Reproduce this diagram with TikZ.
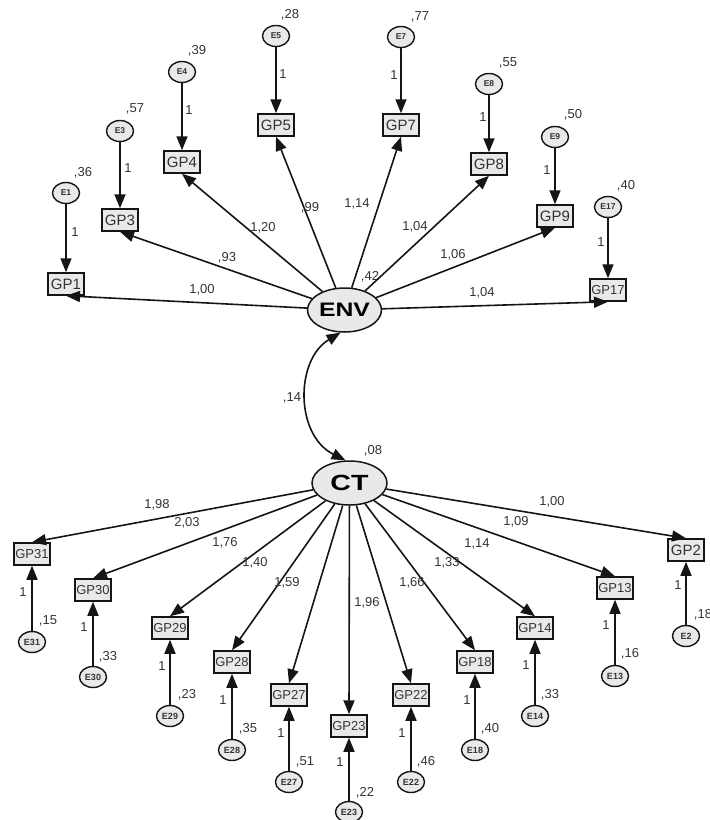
\documentclass[tikz,border=0pt]{standalone}
\usepackage{fontspec}
\setmainfont{Liberation Sans}
\usepackage{graphicx}
\usetikzlibrary{arrows.meta,shapes.geometric}
\definecolor{boxfill}{HTML}{E8EAEA}
\definecolor{linec}{HTML}{151515}
\definecolor{labc}{HTML}{333333}
\begin{document}
\begin{tikzpicture}[x=1pt,y=-1pt,
 obs/.style={draw=linec, line width=1.5pt, fill=boxfill, minimum width=36pt, minimum height=22pt, inner sep=0pt, text=labc, font=\fontsize{15}{15}\selectfont},
 obsb/.style={obs, font=\fontsize{13}{13}\selectfont},
 err/.style={ellipse, draw=linec, line width=1.4pt, fill=boxfill, minimum width=27pt, minimum height=21pt, inner sep=0pt, font=\fontsize{8.5}{9}\selectfont\bfseries, text=labc},
 errb/.style={err, font=\fontsize{9}{9}\selectfont\bfseries},
 lat/.style={ellipse, draw=linec, line width=1.5pt, fill=boxfill, minimum width=74pt, minimum height=44pt, inner sep=0pt, text=black},
 lab/.style={text=labc, font=\fontsize{13}{13}\selectfont, inner sep=0pt},
 arr/.style={line width=1.6pt, draw=linec, -{Triangle[length=14pt,width=11pt]}},
 cov/.style={line width=1.6pt, draw=linec, {Triangle[length=14pt,width=11pt]}-{Triangle[length=14pt,width=11pt]}},
]
\useasboundingbox (0,0) rectangle (710,820);

% latent variables
\node[lat] (ENV) at (344.5,310) {\scalebox{1.27}[1]{\fontsize{19.5}{20}\selectfont\bfseries ENV}};
\node[lat, minimum width=75pt] (CT) at (349.5,483) {\scalebox{1.3}[1]{\fontsize{22}{22}\selectfont\bfseries CT}};
\node[lab] (vENV) at (370,277) {,42};
\node[lab] (vCT) at (373,451) {,08};

% covariance
\draw[cov] (ENV.-100) .. controls (295,360) and (295,435) .. (CT.100);
\node[lab] (lcov) at (292,398) {,14};

% top indicators
\foreach \n/\x/\y/\ey/\v/\vx/\vy/\ox/\oy/\st in {
  1/66/284/193/36/83/173/75/232/obs,
  3/120/220/131/57/135/109/128/168/obs,
  4/182/162/72/39/197/51/189/110/obs,
  5/276/125/36/28/290/15/283/74/obs,
  7/401/125/37/77/420/17/394/75/obs,
  8/489/164/84/55/508/63/483/117/obs,
  9/555/216/137/50/573/115/547/170/obs,
  17/608/290/207/40/626/186/601/242/obsb}{
  \node[\st] (GP\n) at (\x,\y) {GP\n};
  \node[err] (E\n) at (\x,\ey) {E\n};
  \node[lab] (vE\n) at (\vx,\vy) {,\v};
  \draw[arr] (E\n) -- (GP\n) node[lab] (one\n) at (\ox,\oy) {1};
  \draw[arr] (ENV) -- (GP\n.south);
}
\node[lab] (w1) at (202,290) {1,00};
\node[lab] (w3) at (227,258) {,93};
\node[lab] (w4) at (263,228) {1,20};
\node[lab] (w5) at (310,208) {,99};
\node[lab] (w7) at (357,204) {1,14};
\node[lab] (w8) at (415,227) {1,04};
\node[lab] (w9) at (453,255) {1,06};
\node[lab] (w17) at (482,293) {1,04};

% bottom indicators
\foreach \n/\x/\y/\ey/\v/\vx/\vy/\ox/\oy/\st in {
  31/32/554/642/15/48/621/23/592/obsb,
  30/93/590/677/33/108/657/84/627/obsb,
  29/170/628/716/23/187/695/162/666/obsb,
  28/232/662/750/35/248/729/223/700/obsb,
  27/289/695/782/51/305/762/281/733/obsb,
  23/349/726/812/22/365/793/340/762/obsb,
  22/411/695/782/46/426/762/402/733/obsb,
  18/475/662/750/40/490/729/467/700/obsb,
  14/535/628/716/33/550/695/526/665/obsb,
  13/615/588/676/16/630/654/606/625/obsb,
  2/686/550/636/18/703/615/678/585/obs}{
  \node[\st] (GP\n) at (\x,\y) {GP\n};
  \node[errb] (E\n) at (\x,\ey) {E\n};
  \node[lab] (vE\n) at (\vx,\vy) {,\v};
  \draw[arr] (E\n) -- (GP\n) node[lab] (one\n) at (\ox,\oy) {1};
  \draw[arr] (CT) -- (GP\n.north);
}
\node[lab] (w31) at (157,505) {1,98};
\node[lab] (w30) at (187,523) {2,03};
\node[lab] (w29) at (225,543) {1,76};
\node[lab] (w28) at (255,563) {1,40};
\node[lab] (w27) at (287,583) {1,59};
\node[lab] (w23) at (367,603) {1,96};
\node[lab] (w22) at (412,583) {1,66};
\node[lab] (w18) at (447,563) {1,33};
\node[lab] (w14) at (477,544) {1,14};
\node[lab] (w13) at (516,522) {1,09};
\node[lab] (w2) at (552,502) {1,00};
\end{tikzpicture}
\end{document}
